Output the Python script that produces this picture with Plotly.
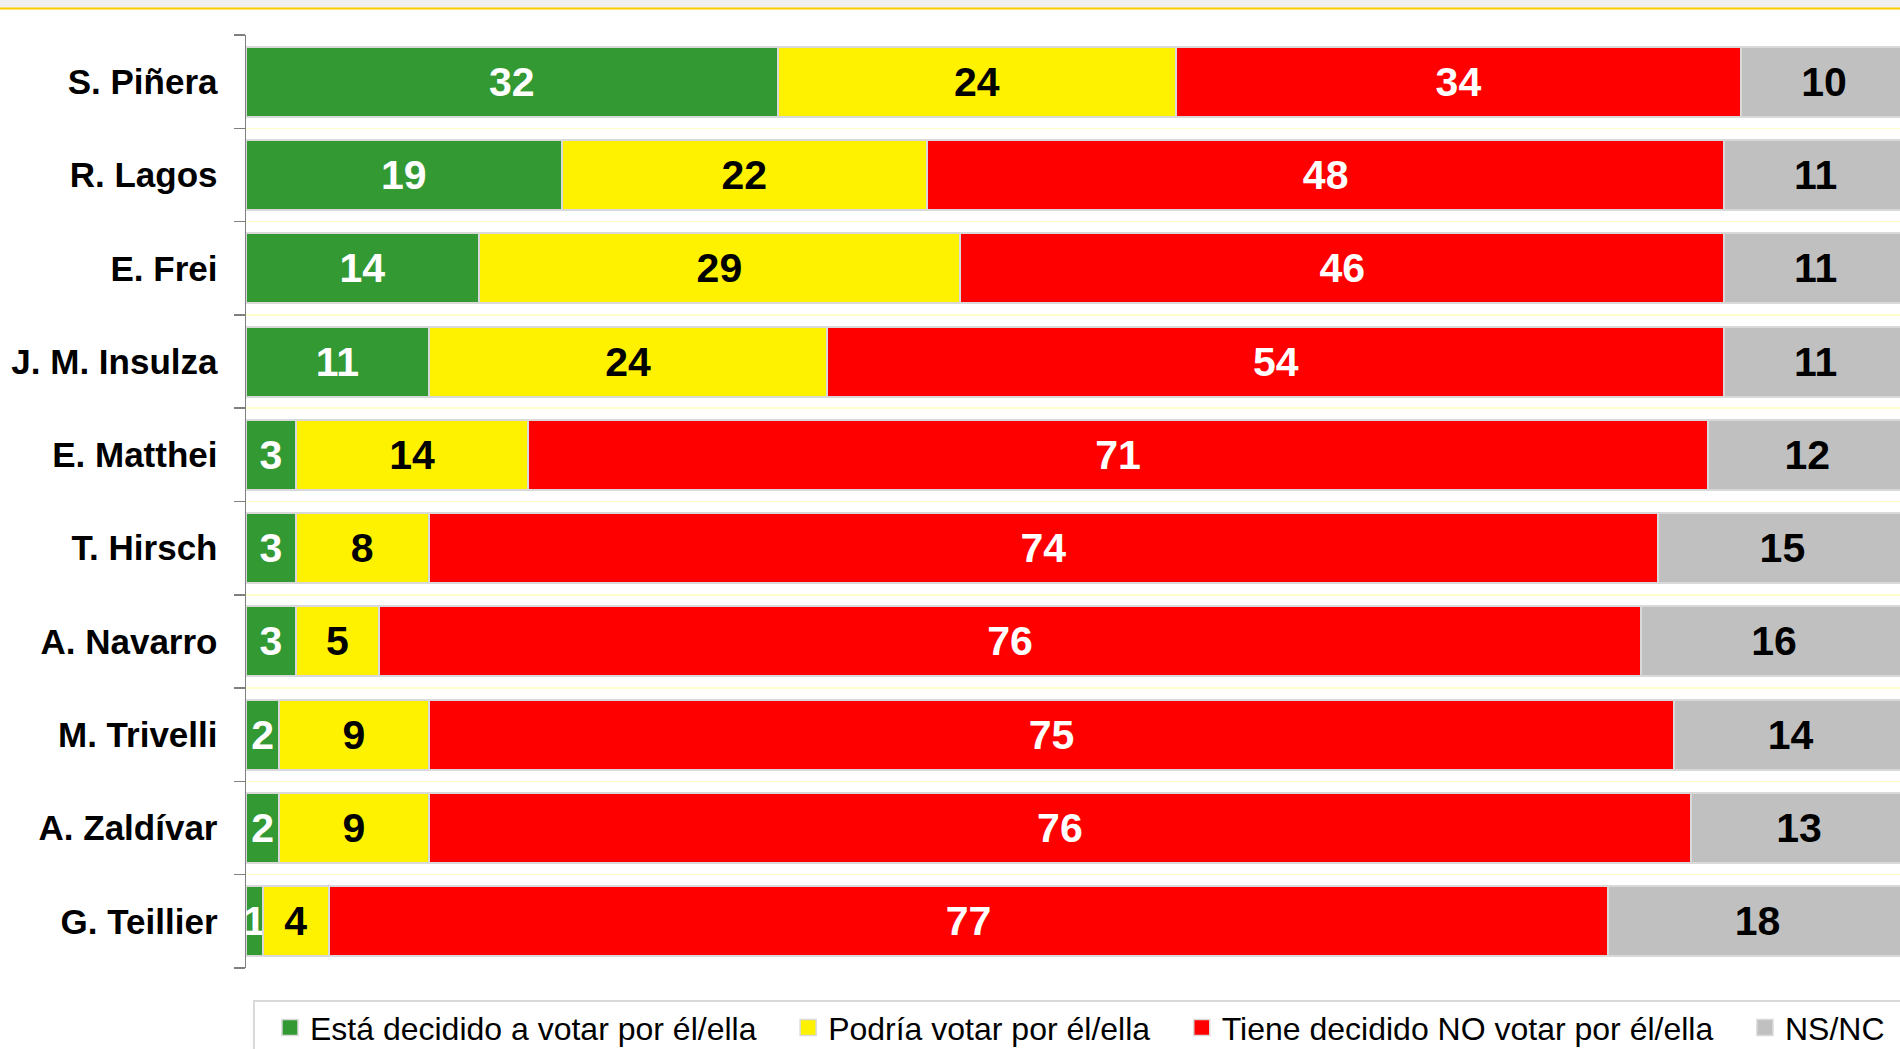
import plotly.graph_objects as go

candidates = ["S. Piñera", "R. Lagos", "E. Frei", "J. M. Insulza", "E. Matthei",
              "T. Hirsch", "A. Navarro", "M. Trivelli", "A. Zaldívar", "G. Teillier"]
decidido = [32, 19, 14, 11, 3, 3, 3, 2, 2, 1]
podria = [24, 22, 29, 24, 14, 8, 5, 9, 9, 4]
no_votar = [34, 48, 46, 54, 71, 74, 76, 75, 76, 77]
nsnc = [10, 11, 11, 11, 12, 15, 16, 14, 13, 18]

series = [
    ("Está decidido a votar por él/ella", decidido, "#339933", "white"),
    ("Podría votar por él/ella", podria, "#FFF200", "black"),
    ("Tiene decidido NO votar por él/ella", no_votar, "#FF0000", "white"),
    ("NS/NC", nsnc, "#C0C0C0", "black"),
]

FONT = "Liberation Sans, Arial, sans-serif"
PAD = "\u00a0\u00a0\u00a0"

fig = go.Figure()
for i, (name, vals, color, tcolor) in enumerate(series):
    fig.add_trace(go.Bar(
        name=name, y=candidates, x=vals, orientation="h",
        marker=dict(color=color, line=dict(color="#D9D9D9", width=2)),
        text=[str(v) for v in vals], textposition="inside",
        insidetextanchor="middle", textangle=0, constraintext="none",
        textfont=dict(family=FONT, size=41, color=tcolor, weight="bold"),
        hoverinfo="skip", showlegend=False,
    ))
for i, (name, vals, color, tcolor) in enumerate(series):
    label = name + (PAD if i < len(series) - 1 else "")
    fig.add_trace(go.Scatter(
        name=label, x=[None], y=[None], mode="markers",
        marker=dict(symbol="square", size=16, color=color,
                    line=dict(color="#D9D9D9", width=1.5)),
        hoverinfo="skip", showlegend=True,
    ))

fig.update_layout(
    barmode="stack", bargap=0.25,
    width=1900, height=1049,
    margin=dict(l=246, r=0, t=35, b=81, autoexpand=False),
    paper_bgcolor="white", plot_bgcolor="white",
    font=dict(family=FONT, color="black"),
    showlegend=True,
    legend=dict(orientation="h", x=0.0145, y=-0.0345, xanchor="left", yanchor="top",
                borderwidth=0, bgcolor="rgba(0,0,0,0)",
                font=dict(family=FONT, size=32, color="black"),
                traceorder="normal"),
    xaxis=dict(range=[0, 99.58], visible=False, fixedrange=True),
    yaxis=dict(categoryorder="array", categoryarray=candidates[::-1],
               range=[-0.5, 9.5], fixedrange=True,
               tickson="boundaries", ticks="outside", ticklen=11, tickcolor="#808080",
               tickwidth=1.5, showline=True, linecolor="#808080", linewidth=1.5,
               showgrid=True, gridcolor="#FFFFCC", gridwidth=1.5,
               ticklabelstandoff=20,
               tickfont=dict(family=FONT, size=35, color="black", weight="bold")),
    shapes=[
        dict(type="rect", xref="paper", yref="paper", x0=-0.2, x1=1.01,
             y0=1.0289, y1=1.04, fillcolor="#F0F0F0", line=dict(width=0), layer="below"),
        dict(type="line", xref="paper", yref="paper", x0=-0.2, x1=1.01,
             y0=1.0283, y1=1.0283, line=dict(color="#FFCC00", width=2)),
        dict(type="rect", xref="paper", yref="paper", x0=0.0048, x1=1.01,
             y0=-0.0354, y1=-0.2, fillcolor="rgba(0,0,0,0)",
             line=dict(color="#D9D9D9", width=2), layer="below"),
    ],
)

fig.write_html("out.html", config={"displayModeBar": False, "staticPlot": True},
               post_script="document.body.style.margin='0';document.body.style.overflow='hidden';")
